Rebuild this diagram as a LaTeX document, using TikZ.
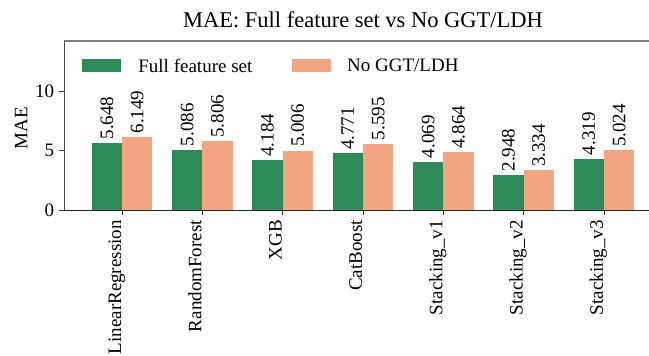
\documentclass[tikz,border=0pt]{standalone}
\usepackage{fontspec}
\setmainfont{Liberation Serif}
\usetikzlibrary{positioning}
\definecolor{fullgreen}{HTML}{2E8B57}
\definecolor{noggt}{HTML}{F4A582}
\tikzset{
    full bar/.style = {
        fill = fullgreen,
        },
    noggt bar/.style = {
        fill = noggt,
        },
    value/.style = {
        rotate = 90,
        anchor = west,
        inner sep = 0pt,
        font = \fontsize{19}{21}\selectfont,
        },
    tick label/.style = {
        rotate = 90,
        anchor = base east,
        inner sep = 0pt,
        font = \fontsize{19}{21}\selectfont,
        },
    ytick label/.style = {
        anchor = east,
        inner sep = 0pt,
        font = \fontsize{19}{21}\selectfont,
        },
    axis tick/.style = {
        draw = black!80,
        line width = 0.8pt,
        },
    legend patch/.style = {
        minimum width = 39pt,
        minimum height = 13pt,
        inner sep = 0pt,
        },
    legend text/.style = {
        inner sep = 0pt,
        font = \fontsize{19}{21}\selectfont,
        },
    plot title/.style = {
        anchor = base,
        inner sep = 0pt,
        font = \fontsize{22.5}{25}\selectfont,
        },
}

\begin{document}
\begin{tikzpicture}[x=80.33pt, y=11.85pt]
    \useasboundingbox (-1.5188,-12.236) rectangle (6.5604,17.722);

    \coordinate (origin) at (-0.718,0);
    \coordinate (topleft) at (-0.718,14.26);
    \coordinate (topright) at (6.5604,14.26);
    \coordinate (bottomright) at (6.5604,0);

    % bars and values
    \foreach \i/\model/\full/\nog in {0/LinearRegression/5.648/6.149,
            1/RandomForest/5.086/5.806, 2/XGB/4.184/5.006,
            3/CatBoost/4.771/5.595, 4/Stacking\_v1/4.069/4.864,
            5/Stacking\_v2/2.948/3.334, 6/Stacking\_v3/4.319/5.024} {
        \fill[full bar] (\i-0.377,0) rectangle (\i,\full);
        \fill[noggt bar] (\i,0) rectangle (\i+0.377,\nog);
        \node[value] (vf\i) at ([yshift=3.5pt]\i-0.1885,\full) {\full};
        \node[value] (vn\i) at ([yshift=3.5pt]\i+0.1885,\nog) {\nog};
        \draw[axis tick] (\i,0) -- ([yshift=-5pt]\i,0);
        \node[tick label] (xl\i) at ([xshift=-1pt,yshift=-10pt]\i,0) {\model};
    }

    % axes
    \draw[gray, line width=1.6pt] (topleft) -- (topright);
    \draw[black!70, line width=0.8pt] (origin) -- (topleft);
    \draw[black!85, line width=0.8pt] (origin) -- (bottomright);

    \foreach \v in {0,5,10} {
        \draw[axis tick] (-0.718,\v) -- ([xshift=-5pt]-0.718,\v);
        \node[ytick label] (yl\v) at ([xshift=-10pt]-0.718,\v) {\v};
    }
    \node[ytick label, rotate=90, anchor=center] (ylabel) at (-1.2573,6.92) {MAE};

    % legend
    \node[legend patch, fill=fullgreen] (legfull) at (-0.2552,12.19) {};
    \node[legend text, right=17pt of legfull] (legfulltext) {Full feature set};
    \node[legend patch, fill=noggt, right=39pt of legfulltext] (legnog) {};
    \node[legend text, right=16pt of legnog] (legnogtext) {No GGT/LDH};

    \node[plot title] (title) at (3,15.44) {MAE: Full feature set vs No GGT/LDH};
\end{tikzpicture}
\end{document}
